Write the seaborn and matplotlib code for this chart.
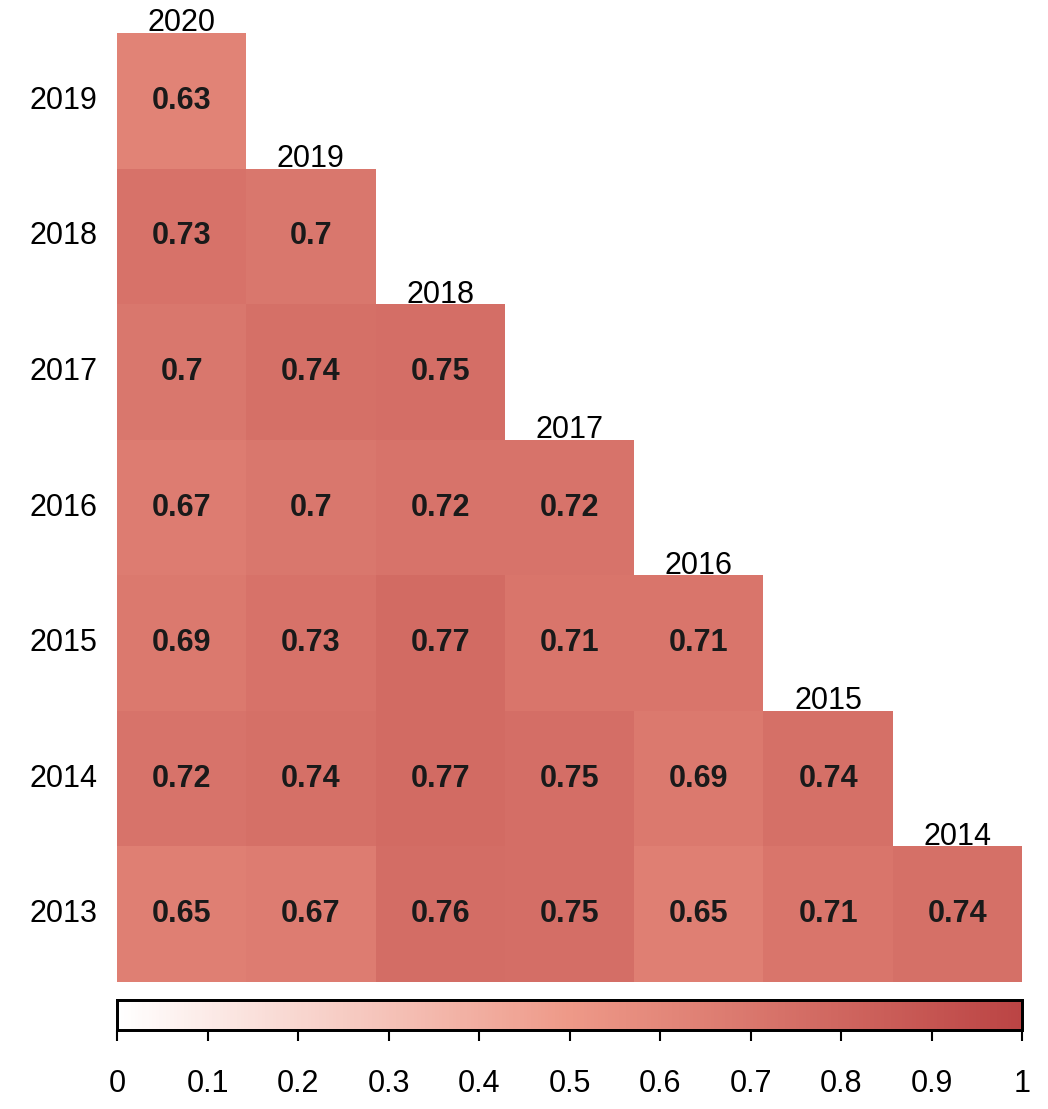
import numpy as np
import pandas as pd
import matplotlib
matplotlib.use("Agg")
import matplotlib.pyplot as plt
import seaborn as sns
from matplotlib.colors import LinearSegmentedColormap

# rows top to bottom, columns left to right
row_years = ["2019", "2018", "2017", "2016", "2015", "2014", "2013"]
col_years = ["2020", "2019", "2018", "2017", "2016", "2015", "2014"]

r2019 = [0.63]
r2018 = [0.73, 0.70]
r2017 = [0.70, 0.74, 0.75]
r2016 = [0.67, 0.70, 0.72, 0.72]
r2015 = [0.69, 0.73, 0.77, 0.71, 0.71]
r2014 = [0.72, 0.74, 0.77, 0.75, 0.69, 0.74]
r2013 = [0.65, 0.67, 0.76, 0.75, 0.65, 0.71, 0.74]

rows = [r2019, r2018, r2017, r2016, r2015, r2014, r2013]
n = len(col_years)
mat = np.full((n, n), np.nan)
for i, r in enumerate(rows):
    mat[i, : len(r)] = r
df = pd.DataFrame(mat, index=row_years, columns=col_years)
mask = np.isnan(mat)
labels = np.array([["" if np.isnan(v) else f"{v:g}" for v in row] for row in mat])

cmap = LinearSegmentedColormap.from_list("corr", ["#FFFFFF", "#EE9988", "#BB4444"])

plt.rcParams["font.family"] = ["Liberation Sans Narrow", "Liberation Sans", "DejaVu Sans"]

W, H = 1048, 1109
fig = plt.figure(figsize=(W / 100, H / 100), dpi=100)
ax = fig.add_axes([117 / W, 1 - 982 / H, (1022 - 117) / W, (982 - 33) / H])
cax = fig.add_axes([117 / W, 1 - 1030 / H, (1022 - 117) / W, 30 / H])

sns.heatmap(
    df, mask=mask, cmap=cmap, vmin=0, vmax=1, annot=labels, fmt="",
    annot_kws={"fontsize": 22, "fontweight": "bold", "color": "#1a1a1a"},
    cbar_ax=cax, cbar_kws={"orientation": "horizontal"}, ax=ax,
)

ax.set_xticks([])
ax.set_xlabel("")
ax.set_ylabel("")
ax.set_yticks(np.arange(n) + 0.5)
ax.set_yticklabels(row_years, rotation=0, fontsize=22)
ax.tick_params(axis="y", length=0, pad=14)

# column labels sit on top of each diagonal cell
for j, lab in enumerate(col_years):
    ax.text(j + 0.5, j + 0.04, lab, ha="center", va="bottom", fontsize=22, clip_on=False)

cax.set_xticks(np.linspace(0, 1, 11))
cax.set_xticklabels(["0", "0.1", "0.2", "0.3", "0.4", "0.5", "0.6", "0.7", "0.8", "0.9", "1"])
cax.tick_params(axis="x", length=8, width=1.5, pad=20, labelsize=22)
for s in cax.spines.values():
    s.set_visible(True)
    s.set_linewidth(2)
    s.set_color("black")

fig.savefig("out.png", dpi=100)
